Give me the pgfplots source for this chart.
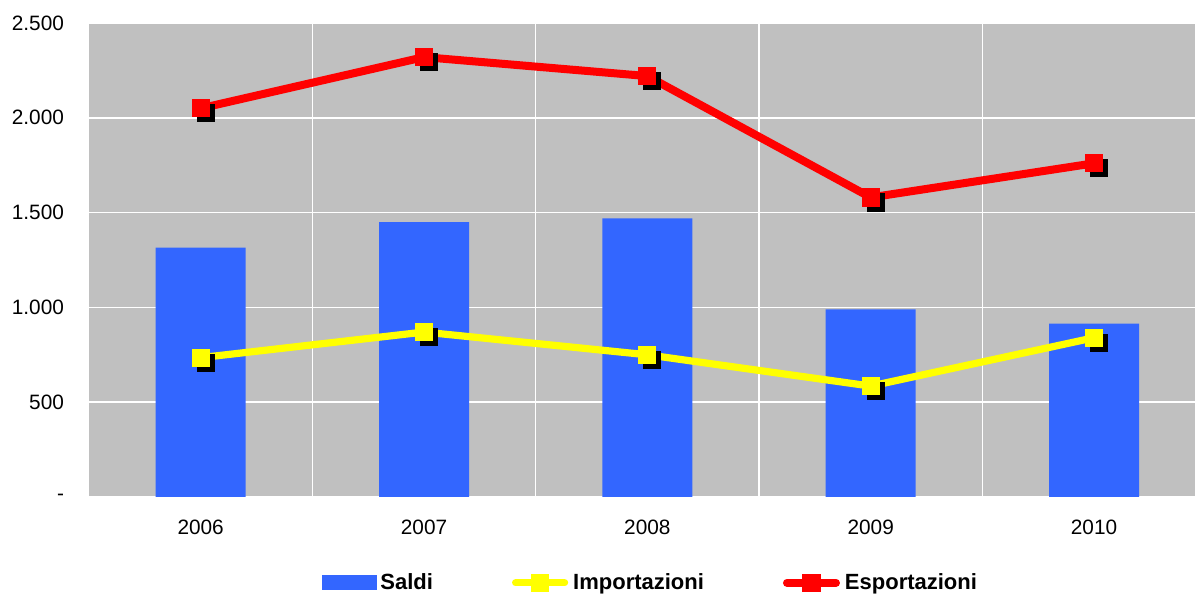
\documentclass[border=0pt]{standalone}
\usepackage{pgfplots}
\pgfplotsset{compat=1.18}
\usepackage{fontspec}
\setmainfont{Liberation Sans}

\definecolor{plotgray}{RGB}{192,192,192}
\definecolor{barblue}{RGB}{51,102,255}
\definecolor{linered}{RGB}{255,0,0}
\definecolor{lineyellow}{RGB}{255,255,0}

\pgfplotsset{
  barlegend/.style={legend image code/.code={\fill[barblue] (0pt,-3.75pt) rectangle (27.5pt,3.75pt);}},
  linelegend/.style={legend image code/.code={\path (0pt,0pt) (27.5pt,0pt);
      \draw[mark repeat=2,mark phase=2,line cap=round,##1]
      plot coordinates {(2pt,0pt) (14.25pt,0pt) (26.5pt,0pt)};}},
  shadow/.style={forget plot, only marks, mark=square*, mark size=4.3pt,
    mark options={fill=black, draw=black, line width=0pt, xshift=2.5pt, yshift=-2.5pt}},
}

% Saldi, Importazioni, Esportazioni per anno
\pgfplotstableread{
x anno saldi imp esp
0 2006 1315 735 2050
1 2007 1450 870 2320
2 2008 1470 750 2220
3 2009 990  585 1580
4 2010 915  840 1760
}\datatable

\begin{document}
\begin{tikzpicture}
  \begin{axis}[
    scale only axis,
    width=553pt, height=237pt,
    xmin=-0.5, xmax=4.452,
    ymin=0, ymax=2500,
    xtick={0,1,2,3,4},
    xticklabels={2006,2007,2008,2009,2010},
    minor xtick={0.5,1.5,2.5,3.5},
    ytick={0,500,1000,1500,2000,2500},
    yticklabels={-,500,1.000,1.500,2.000,2.500},
    major tick length=0pt, minor tick length=0pt,
    axis line style={draw=none},
    axis background/.style={fill=plotgray},
    ymajorgrids, xminorgrids,
    major grid style={white, line width=0.75pt},
    minor grid style={white, line width=0.75pt},
    tick label style={font=\fontsize{10.4}{12}\selectfont},
    yticklabel style={xshift=-9pt},
    xticklabel style={yshift=-8pt},
    legend columns=3,
    legend style={
      at={(0.2107,-0.181)}, anchor=west,
      draw=none, fill=none, inner sep=0pt,
      font=\fontsize{11}{13}\selectfont\bfseries,
      nodes={inner sep=1.5pt},
      /tikz/every even column/.append style={column sep=36pt},
    },
  ]

  % barre dei saldi
  \addplot[ybar, bar width=45pt, fill=barblue, draw=none, barlegend]
    table[x=x,y=saldi]{\datatable};
  \addlegendentry{Saldi}

  % ombre dei marcatori, poi linee
  \addplot[shadow] table[x=x,y=imp]{\datatable};
  \addplot[lineyellow, line width=3.6pt, mark=square*, mark size=4.3pt,
    mark options={fill=lineyellow, draw=lineyellow, line width=0pt}, linelegend]
    table[x=x,y=imp]{\datatable};
  \addlegendentry{Importazioni}

  \addplot[shadow] table[x=x,y=esp]{\datatable};
  \addplot[linered, line width=4pt, mark=square*, mark size=4.3pt,
    mark options={fill=linered, draw=linered, line width=0pt}, linelegend]
    table[x=x,y=esp]{\datatable};
  \addlegendentry{Esportazioni}

  \coordinate (bl) at (rel axis cs:0,0);
  \coordinate (tr) at (rel axis cs:1,1);
  \end{axis}
  \pgfresetboundingbox
  \path[use as bounding box] ([xshift=-44.5pt,yshift=-48.5pt]bl) rectangle ([yshift=11.5pt]tr);
\end{tikzpicture}
\end{document}
